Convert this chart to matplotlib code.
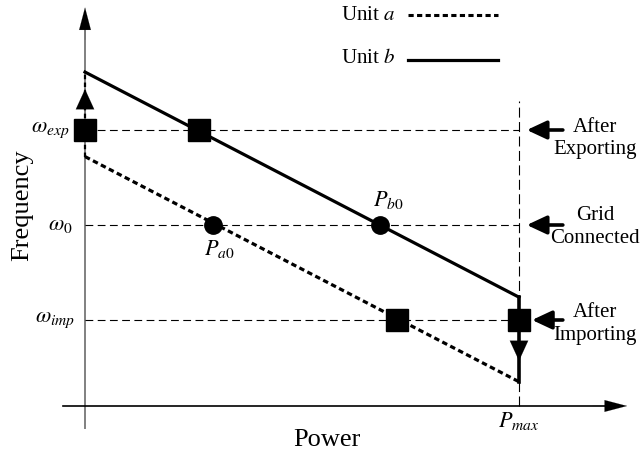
import numpy as np
import matplotlib
matplotlib.use('Agg')
import matplotlib.pyplot as plt

plt.rcParams['font.family'] = ['Liberation Serif', 'DejaVu Serif']
plt.rcParams['mathtext.fontset'] = 'stix'

# schematic values: power as fraction of P_max, frequency relative to omega_0
omega_levels = [1.0, 0.0, -1.0]
omega_labels = [r'$\omega_{exp}$', r'$\omega_{\mathit{0}}$', r'$\omega_{imp}$']
state_labels = ['After\nExporting', 'Grid\nConnected', 'After\nImporting']
P_max = 1.0

unit_a_P = [0.0, 1.0]
unit_a_w = [0.72, -1.65]
unit_b_P = [0.0, 1.0]
unit_b_w = [1.61, -0.76]

square_P = [0.0, 0.262, 0.72, 1.0]
square_w = [1.0, 1.0, -1.0, -1.0]
circle_P = [0.295, 0.68]
circle_w = [0.0, 0.0]
circle_labels = [r'$P_{\mathit{a0}}$', r'$P_{\mathit{b0}}$']

fig = plt.figure(figsize=(6.4, 4.54), dpi=100)
ax = fig.add_axes([0, 0, 1, 1])
ax.set_xlim(-0.1959, 1.2788)
ax.set_ylim(-2.4105, 2.3684)
ax.axis('off')

x_axis_w = -1.905


def head(tip, tail, length, width, lw=0.1):
    ax.annotate('', xy=tip, xytext=tail,
                arrowprops=dict(arrowstyle='-|>,head_length=%g,head_width=%g' % (length, width),
                                mutation_scale=20, color='black', lw=lw,
                                shrinkA=0, shrinkB=0))


# axes with arrows
ax.plot([0, 0], [-2.14, 2.15], color='#808080', lw=1.4, zorder=1)
head((0, 2.29), (0, 1.95), 0.8, 0.21)
ax.plot([-0.051, 1.22], [x_axis_w, x_axis_w], color='black', lw=1.2, zorder=1)
head((1.249, x_axis_w), (1.17, x_axis_w), 0.8, 0.21)

# reference dashed lines
for w in omega_levels:
    ax.plot([0, P_max], [w, w], color='black', lw=0.8, ls=(0, (7, 4)), zorder=1)
ax.plot([P_max, P_max], [x_axis_w, 1.3], color='black', lw=0.8, ls=(0, (9, 4)), zorder=1)

# droop lines
ax.plot(unit_a_P, unit_a_w, color='black', lw=2.3, ls=(0, (1.7, 1.1)),
        dash_capstyle='butt', zorder=2)
ax.plot(unit_b_P, unit_b_w, color='black', lw=2.3, zorder=2)

# frequency shifts
ax.plot([0, 0], [unit_a_w[0], unit_b_w[0]], color='black', lw=1.6,
        ls=(0, (2, 1.5)), zorder=2)
head((0, 1.43), (0, 1.1), 0.72, 0.33)
ax.plot([P_max, P_max], [unit_b_w[1], unit_a_w[1]], color='black', lw=2.6, zorder=2)
head((P_max, -1.43), (P_max, -1.1), 0.72, 0.33)

# operating points
ax.plot(square_P, square_w, 's', color='black', ms=15.5, zorder=3)
ax.plot(circle_P, circle_w, 'o', color='black', ms=12.5, zorder=3)
ax.text(0.309, -0.25, circle_labels[0], fontsize=16, ha='center', va='center')
ax.text(0.698, 0.26, circle_labels[1], fontsize=16, ha='center', va='center')

# frequency tick labels
for w, lab, xr in zip(omega_levels, omega_labels, [-0.035, -0.028, -0.022]):
    ax.text(xr, w, lab, fontsize=16, ha='right', va='center')
ax.text(P_max, -2.06, r'$P_{max}$', fontsize=16, ha='center', va='center')

# state annotations on the right
tips = [1.018, 1.018, 1.03]
for w, lab, tip, dy in zip(omega_levels, state_labels, tips, [-0.09, -0.02, -0.04]):
    ax.annotate('', xy=(tip, w), xytext=(1.101, w),
                arrowprops=dict(arrowstyle='-|>,head_length=0.6,head_width=0.28',
                                mutation_scale=20, color='black', lw=2.6,
                                shrinkA=0, shrinkB=0))
    ax.text(1.175, w + dy, lab, fontsize=15, ha='center', va='center',
            linespacing=1.25)

# axis titles
ax.text(-0.145, 0.21, 'Frequency', fontsize=19, rotation=90, ha='center', va='center')
ax.text(0.558, -2.26, 'Power', fontsize=19, ha='center', va='center')

# legend
ax.text(0.714, 2.21, r'Unit $a$', fontsize=15, ha='right', va='center')
ax.plot([0.744, 0.952], [2.21, 2.21], color='black', lw=2.2, ls=(0, (1.7, 1.1)),
        dash_capstyle='butt')
ax.text(0.714, 1.75, r'Unit $b$', fontsize=15, ha='right', va='center')
ax.plot([0.744, 0.952], [1.74, 1.74], color='black', lw=2.3)

fig.savefig('out.png', dpi=100)
